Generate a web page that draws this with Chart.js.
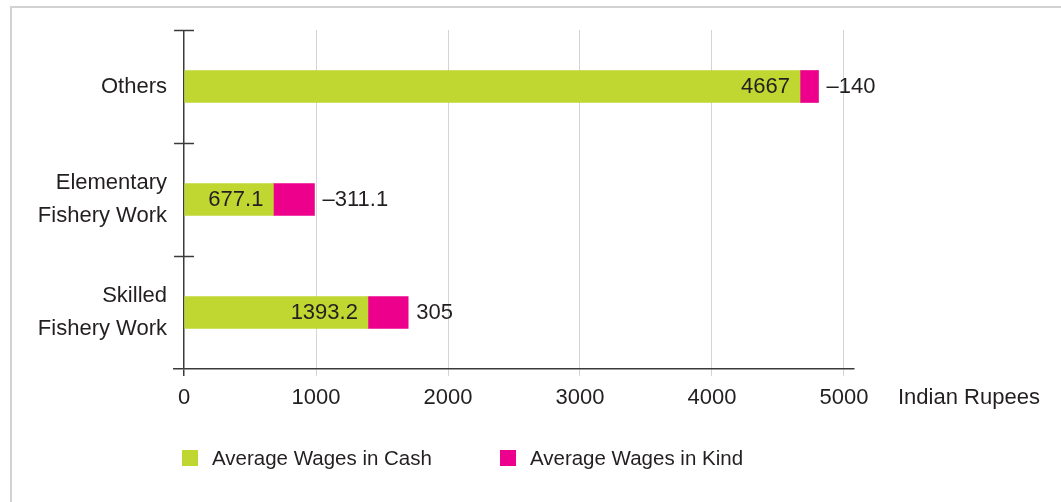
<!DOCTYPE html>
<html>
<head>
<meta charset="utf-8">
<script src="https://cdn.jsdelivr.net/npm/chart.js@4.4.1/dist/chart.umd.min.js"></script>
<style>
	html, body { margin: 0; padding: 0; background: #fff; }
	#wrap { position: relative; width: 1061px; height: 502px; overflow: hidden; }
	#frame { position: absolute; left: 10px; top: 6px; width: 1100px; height: 600px; border-top: 2px solid #d2d2d2; border-left: 2px solid #d2d2d2; }
	#chart { position: absolute; left: 0; top: 0; }
	#legend { position: absolute; left: 182px; top: 446px; display: flex; font: 20.5px "Liberation Sans", Arial, sans-serif; color: #231f20; line-height: 24px; }
	.item { display: flex; align-items: center; margin-right: 68px; }
	.box { width: 16px; height: 16px; margin-right: 14px; }
</style>
</head>
<body>
<div id="wrap">
	<div id="frame"></div>
	<canvas id="chart" width="1061" height="502"></canvas>
	<div id="legend"></div>
</div>
<script>
// Chart data
const CATEGORIES = [["Others"], ["Elementary", "Fishery Work"], ["Skilled", "Fishery Work"]];
const CASH = [4667, 677.1, 1393.2];
const KIND = [140, 311.1, 305];
const CASH_LABELS = ["4667", "677.1", "1393.2"];
const KIND_LABELS = ["\u2013140", "\u2013311.1", "305"];
const X_TICKS = [0, 1000, 2000, 3000, 4000, 5000];
const X_TITLE = "Indian Rupees";

const TEXT = "#231f20";
const AXIS = "#3a3a3a";
const FONT = '"Liberation Sans", Arial, sans-serif';
const SIZE = 22;

Chart.defaults.font.family = FONT;
Chart.defaults.font.size = SIZE;
Chart.defaults.color = TEXT;

// y tick marks across the axis line, value labels and axis title
const extras = {
	id: "extras",
	afterDraw(chart) {
		const { ctx, chartArea } = chart;
		const x = chart.scales.x;
		const y = chart.scales.y;
		const x0 = x.getPixelForValue(0);
		ctx.save();
		ctx.strokeStyle = AXIS;
		ctx.lineWidth = 1.5;
		for (let i = 0; i < CATEGORIES.length; i++) {
			const py = Math.round(y.getPixelForValue(i - 0.5)) + 0.5;
			ctx.beginPath();
			ctx.moveTo(x0 - 10, py);
			ctx.lineTo(x0 + 10, py);
			ctx.stroke();
		}
		ctx.font = SIZE + "px " + FONT;
		ctx.fillStyle = TEXT;
		ctx.textBaseline = "middle";
		chart.getDatasetMeta(0).data.forEach((bar, i) => {
			ctx.textAlign = "right";
			ctx.fillText(CASH_LABELS[i], bar.x - 10, bar.y);
		});
		chart.getDatasetMeta(1).data.forEach((bar, i) => {
			ctx.textAlign = "left";
			ctx.fillText(KIND_LABELS[i], bar.x + 8, bar.y);
		});
		ctx.textAlign = "left";
		ctx.fillText(X_TITLE, chartArea.right + 44, chartArea.bottom + 29);
		ctx.restore();
	},
};

const DATA = {
	labels: CATEGORIES,
	datasets: [
		{
			label: "Average Wages in Cash",
			data: CASH,
			backgroundColor: "#bfd730",
			barThickness: 32,
		},
		{
			label: "Average Wages in Kind",
			data: KIND,
			backgroundColor: "#ec008c",
			barThickness: 32,
		},
	],
};

const CONFIG = {
	type: "bar",
	data: DATA,
	plugins: [extras],
	options: {
		responsive: false,
		animation: false,
		indexAxis: "y",
		layout: {
			padding: { left: 10, right: 207, top: 30, bottom: 93 },
		},
		elements: { bar: { borderWidth: 0 } },
		plugins: {
			legend: { display: false },
			tooltip: { enabled: false },
		},
		scales: {
			x: {
				stacked: true,
				min: -76,
				max: 5076,
				afterBuildTicks: (scale) => {
					scale.ticks = X_TICKS.map((v) => ({ value: v }));
				},
				afterFit: (scale) => {
					scale.height = 40;
					scale.paddingLeft = 0;
					scale.paddingRight = 0;
				},
				border: { display: true, color: AXIS, width: 1.5 },
				grid: {
					color: (c) => (c.tick && c.tick.value === 0 ? AXIS : "#d4d4d4"),
					lineWidth: (c) => (c.tick && c.tick.value === 0 ? 1.5 : 1),
					tickLength: 7,
				},
				ticks: {
					padding: 9,
					color: TEXT,
					callback: (v) => String(v),
				},
			},
			y: {
				stacked: true,
				afterFit: (scale) => {
					scale.width = 164;
					scale.paddingTop = 0;
					scale.paddingBottom = 0;
				},
				border: { display: false },
				grid: { display: false, drawTicks: false },
				ticks: { padding: 7, color: TEXT, font: { lineHeight: 1.5 } },
			},
		},
	},
};

const chart = new Chart(document.getElementById("chart"), CONFIG);

// HTML legend
const legend = document.getElementById("legend");
chart.data.datasets.forEach((ds) => {
	const item = document.createElement("div");
	item.className = "item";
	const box = document.createElement("span");
	box.className = "box";
	box.style.background = ds.backgroundColor;
	const label = document.createElement("span");
	label.textContent = ds.label;
	item.appendChild(box);
	item.appendChild(label);
	legend.appendChild(item);
});
</script>
</body>
</html>
